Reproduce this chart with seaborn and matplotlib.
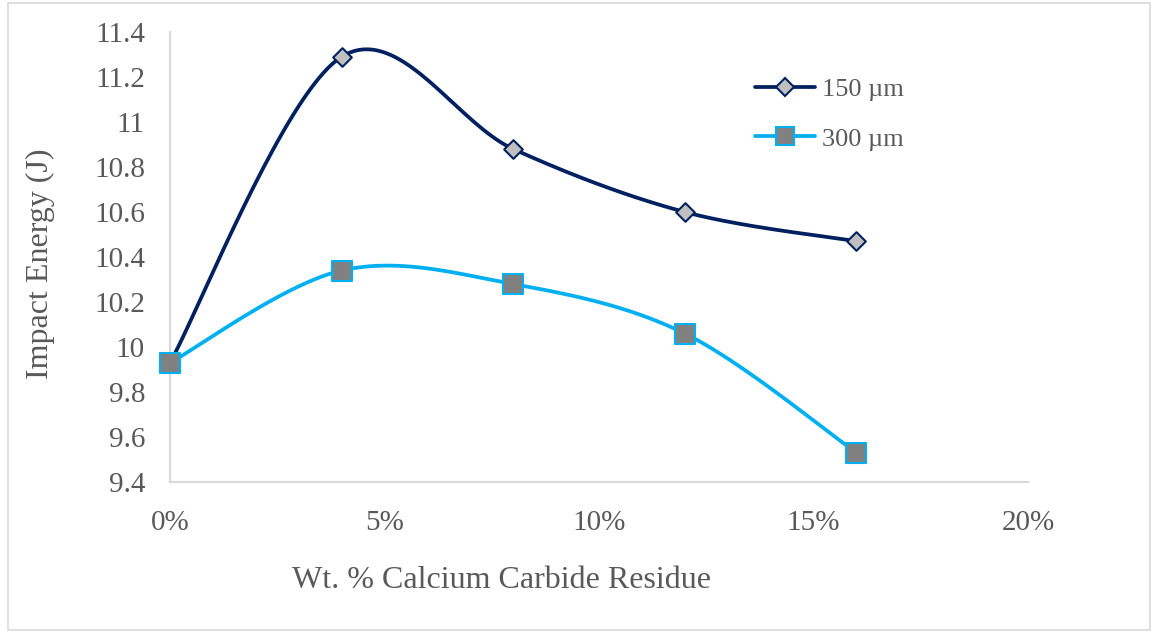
import matplotlib
matplotlib.use('Agg')
import matplotlib.pyplot as plt
from matplotlib.lines import Line2D
from matplotlib.patches import Rectangle
from matplotlib.ticker import FuncFormatter, MultipleLocator
import seaborn as sns
import numpy as np
import pandas as pd

# ============ 数据 ============
wt_pct = [0.0, 0.04, 0.08, 0.12, 0.16]
energy_150 = [9.93, 11.29, 10.88, 10.60, 10.47]
energy_300 = [9.93, 10.34, 10.28, 10.06, 9.53]
series_names = ['150 µm', '300 µm']

LINE_COLORS = ['#002060', '#00B0F0']
MARKER_FILL = ['#BFBFBF', '#808080']
TEXT_GRAY = '#595959'

sns.set_style("white")
plt.rcParams['font.family'] = ['Liberation Serif', 'DejaVu Serif']


def smooth(xs, ys, n=40):
    """Excel 风格平滑线 (Catmull-Rom)"""
    p = np.column_stack([xs, ys])
    p = np.vstack([p[0], p, p[-1]])
    out = []
    t = np.linspace(0, 1, n)[:, None]
    for i in range(1, len(p) - 2):
        p0, p1, p2, p3 = p[i - 1], p[i], p[i + 1], p[i + 2]
        c1 = p1 + (p2 - p0) / 6
        c2 = p2 - (p3 - p1) / 6
        seg = ((1 - t) ** 3) * p1 + 3 * ((1 - t) ** 2) * t * c1 + 3 * (1 - t) * t ** 2 * c2 + t ** 3 * p2
        out.append(seg if i == 1 else seg[1:])
    out = np.vstack(out)
    return out[:, 0], out[:, 1]


fig = plt.figure(figsize=(11.56, 6.33), dpi=100)
ax = fig.add_axes([170 / 1156, 1 - 482 / 633, (1028 - 170) / 1156, (482 - 32) / 633])

markers = ['D', 's']
msizes = [9.5, 15]
for i, ys in enumerate([energy_150, energy_300]):
    sx, sy = smooth(wt_pct, ys)
    curve = pd.DataFrame({'x': sx, 'y': sy})
    sns.lineplot(data=curve, x='x', y='y', sort=False, ax=ax, color=LINE_COLORS[i],
                 linewidth=2.7, zorder=2)
    pts = pd.DataFrame({'x': wt_pct, 'y': ys})
    sns.scatterplot(data=pts, x='x', y='y', ax=ax, marker=markers[i],
                    s=msizes[i] ** 2, color=MARKER_FILL[i], edgecolor=LINE_COLORS[i],
                    linewidth=1.5, zorder=3, clip_on=False)

ax.set_xlim(0, 0.20)
ax.set_ylim(9.4, 11.4)
ax.xaxis.set_major_locator(MultipleLocator(0.05))
ax.yaxis.set_major_locator(MultipleLocator(0.2))
ax.xaxis.set_major_formatter(FuncFormatter(lambda v, _: f'{v * 100:.0f}%'))
ax.yaxis.set_major_formatter(FuncFormatter(lambda v, _: f'{round(v, 1):g}'))
ax.tick_params(axis='both', labelsize=21, labelcolor=TEXT_GRAY, length=0)
ax.tick_params(axis='x', pad=20)
ax.tick_params(axis='y', pad=18)
ax.set_xlabel('')
ax.set_ylabel('')

for side in ['top', 'right']:
    ax.spines[side].set_visible(False)
for side in ['left', 'bottom']:
    ax.spines[side].set_color('#D9D9D9')
    ax.spines[side].set_linewidth(1.5)

fig.text(502 / 1156, 1 - 580 / 633, 'Wt. % Calcium Carbide Residue', ha='center', va='center',
         fontsize=23, color=TEXT_GRAY)
fig.text(40 / 1156, 1 - 264 / 633, 'Impact Energy (J)', ha='center', va='center',
         rotation=90, fontsize=23, color=TEXT_GRAY)

# 图例
handles = [
    Line2D([], [], color=LINE_COLORS[0], linewidth=2.7, marker='D', markersize=9,
           markerfacecolor=MARKER_FILL[0], markeredgecolor=LINE_COLORS[0], markeredgewidth=1.5),
    Line2D([], [], color=LINE_COLORS[1], linewidth=2.7, marker='s', markersize=12.5,
           markerfacecolor=MARKER_FILL[1], markeredgecolor=LINE_COLORS[1], markeredgewidth=1.5),
]
leg = fig.legend(handles, series_names, loc='center left', bbox_to_anchor=(731 / 1156, 1 - 114 / 633),
                 frameon=False, fontsize=19, handlelength=2.3, handletextpad=0.25,
                 labelspacing=1.0, labelcolor=TEXT_GRAY)

# 外框
fig.patches.append(Rectangle((8 / 1156, 3 / 633), 1 - 14 / 1156, 1 - 6 / 633,
                             transform=fig.transFigure, fill=False,
                             edgecolor='#D9D9D9', linewidth=1.2))

fig.savefig('out.png', dpi=100)
